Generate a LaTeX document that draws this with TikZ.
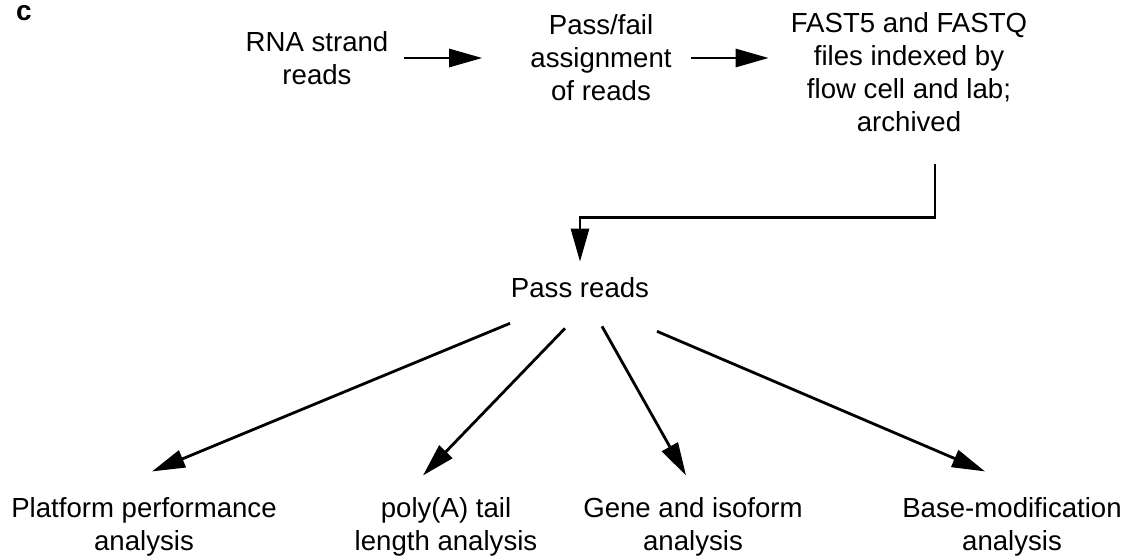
\documentclass[tikz,border=0pt]{standalone}
\usepackage{fontspec}
\setmainfont{Liberation Sans}
\usetikzlibrary{arrows.meta,calc}
\begin{document}
\begin{tikzpicture}[x=1pt,y=-1pt,
  txt/.style={font=\fontsize{27.6}{33}\selectfont, align=center, inner sep=0pt},
  arr/.style={line width=2.8pt, -{Triangle[length=33pt,width=18pt]}}]
\useasboundingbox (0,0) rectangle (1142,556);
\node[inner sep=0pt, font=\fontsize{28}{30}\selectfont\bfseries] (lbl) at (24,13) {c};
\node[txt] (rna) at (317,58) {RNA strand\\reads};
\node[txt] (pf) at (601,58) {Pass/fail\\assignment\\of reads};
\node[txt] (fast) at (909,72) {FAST5 and FASTQ\\files indexed by\\flow cell and lab;\\archived};
\node[txt] (pass) at (580,288) {Pass reads};
\node[txt] (b1) at (144,527) {Platform performance\\analysis};
\node[txt] (b2) at (446,527) {poly(A) tail\\length analysis};
\node[txt] (b3) at (693,527) {Gene and isoform\\analysis};
\node[txt] (b4) at (1012,527) {Base-modification\\analysis};
\coordinate (row) at (0,58);
\draw[arr] ($(rna.east |- row)+(15,0)$) -- ($(pf.west |- row)+(-48,0)$);
\draw[arr] ($(pf.east |- row)+(19,0)$) -- ($(fast.west |- row)+(-22,0)$);
\draw[arr] ($(fast.south)+(26,32)$) |- ($(pass.north)+(0,-60)$) -- ($(pass.north)+(0,-16)$);
\draw[arr] ($(pass.south)+(-70,25)$) -- ($(b1.north)+(8,-26)$);
\draw[arr] ($(pass.south)+(-15,30)$) -- ($(b2.north)+(-23,-22)$);
\draw[arr] ($(pass.south)+(22,28)$) -- ($(b3.north)+(-7,-22)$);
\draw[arr] ($(pass.south)+(77,33)$) -- ($(b4.north)+(-27,-26)$);
\end{tikzpicture}
\end{document}
